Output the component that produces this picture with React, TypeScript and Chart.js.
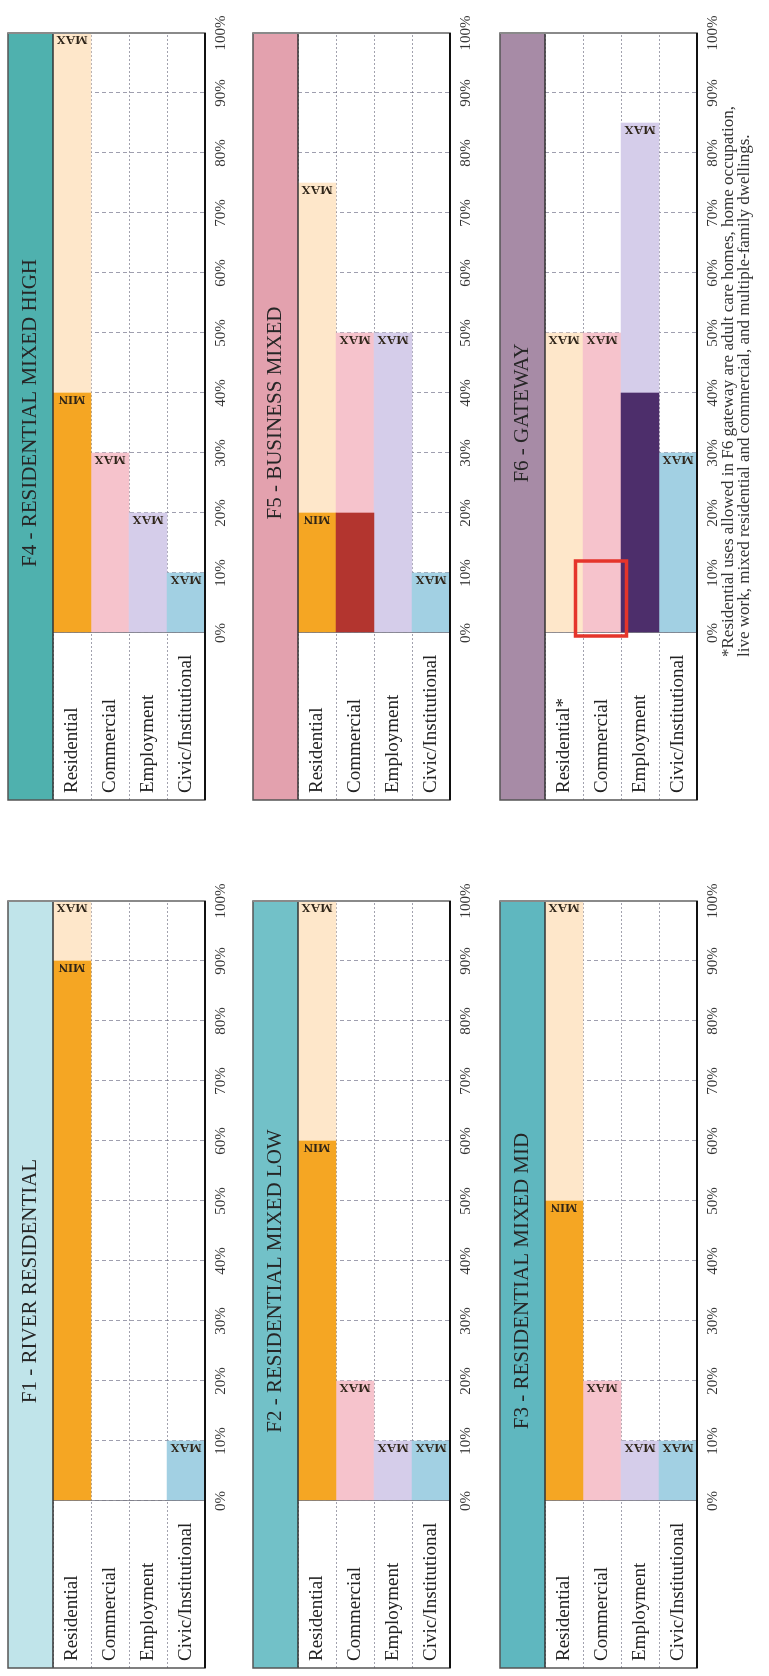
import React, { useEffect, useRef } from "react";
import { Chart, registerables } from "chart.js";

Chart.register(...registerables);

// ---------- data ----------
const rowLabels = ["Residential", "Commercial", "Employment", "Civic/Institutional"];
const rowLabelsF6 = ["Residential*", "Commercial", "Employment", "Civic/Institutional"];
const percentTicks = [0, 10, 20, 30, 40, 50, 60, 70, 80, 90, 100];

const titleF1 = "F1 - RIVER RESIDENTIAL";
const titleF2 = "F2 - RESIDENTIAL MIXED LOW";
const titleF3 = "F3 - RESIDENTIAL MIXED MID";
const titleF4 = "F4 - RESIDENTIAL MIXED HIGH";
const titleF5 = "F5 - BUSINESS MIXED";
const titleF6 = "F6 - GATEWAY";

// minimum share (solid segment) and maximum share (end of light segment), in %
const f1Min = [90, 0, 0, 0];
const f1Max = [100, 0, 0, 10];
const f2Min = [60, 0, 0, 0];
const f2Max = [100, 20, 10, 10];
const f3Min = [50, 0, 0, 0];
const f3Max = [100, 20, 10, 10];
const f4Min = [40, 0, 0, 0];
const f4Max = [100, 30, 20, 10];
const f5Min = [20, 20, 0, 0];
const f5Max = [75, 50, 50, 10];
const f6Min = [0, 0, 40, 0];
const f6Max = [50, 50, 85, 30];

// which rows carry a MIN tag
const minTagRows = [true, false, false, false];

// highlighted cell in F6 (row index, from %, to %)
const f6HighlightRow = 1;
const f6HighlightFrom = 0;
const f6HighlightTo = 12;

const footnoteLines = [
  "*Residential uses allowed in F6 gateway are adult care homes, home occupation,",
  "live work, mixed residential and commercial, and multiple-family dwellings.",
];

// ---------- styles ----------
const solidColors = ["#f5a623", "#b3352f", "#4d2e6b", "#9fcfe2"];
const lightColors = ["#fee7ca", "#f6c3cc", "#d5cdea", "#a2d0e3"];
const headerColors = ["#c0e4ea", "#72c1c8", "#5fb7bf", "#4fb1ae", "#e3a1ae", "#a78ba6"];

const SERIF = '"Liberation Serif", "Times New Roman", serif';
const LABEL_W = 167;
const LABEL_INSET = 7;
const PAD_L = 10;
const PAD_R = 25;
const PAD_T = 2;
const PLOT_W = 600;
const CW = PAD_L + (LABEL_W - LABEL_INSET) + PLOT_W + PAD_R;
const XAXIS_H = 33;
const CH = PAD_T + 45 + 152 + XAXIS_H;

const decorPlugin = {
  id: "panelDecor",
  beforeDraw(chart: any, _args: any, opts: any) {
    const { ctx, chartArea } = chart;
    const tb = chart.titleBlock;
    const left = chartArea.left - LABEL_W;
    const top = tb ? tb.top : PAD_T;
    ctx.save();
    ctx.fillStyle = "#ffffff";
    ctx.fillRect(left, top, chartArea.right - left, chartArea.bottom - top);
    ctx.fillStyle = opts.headerColor;
    ctx.fillRect(left, top, chartArea.right - left, chartArea.top - top);
    ctx.restore();
  },
  afterDraw(chart: any, _args: any, opts: any) {
    const { ctx, chartArea } = chart;
    const tb = chart.titleBlock;
    const left = chartArea.left - LABEL_W;
    const top = tb ? tb.top : PAD_T;
    const xs = chart.scales.x;
    const ys = chart.scales.y;
    ctx.save();

    // MIN / MAX tags at the end of each segment
    chart.data.datasets.forEach((ds: any, di: number) => {
      const meta = chart.getDatasetMeta(di);
      meta.data.forEach((bar: any, i: number) => {
        const tag = ds.endTags ? ds.endTags[i] : null;
        if (!tag || ds.data[i] == null) return;
        ctx.save();
        ctx.translate(bar.x - 3, bar.y);
        ctx.rotate(-Math.PI / 2);
        ctx.font = `bold 13px ${SERIF}`;
        ctx.fillStyle = "#2e2418";
        ctx.textAlign = "center";
        ctx.textBaseline = "alphabetic";
        ctx.fillText(tag, 0, 0);
        ctx.restore();
      });
    });

    // divider between labels and plot
    ctx.strokeStyle = "rgba(120,120,130,0.8)";
    ctx.lineWidth = 1;
    ctx.beginPath();
    ctx.moveTo(chartArea.left + 0.5, chartArea.top);
    ctx.lineTo(chartArea.left + 0.5, chartArea.bottom);
    ctx.stroke();

    // header / body separator
    ctx.strokeStyle = "#333";
    ctx.lineWidth = 1.5;
    ctx.beginPath();
    ctx.moveTo(left, chartArea.top);
    ctx.lineTo(chartArea.right, chartArea.top);
    ctx.stroke();

    // outer frame
    ctx.strokeStyle = "#555";
    ctx.lineWidth = 1.5;
    ctx.strokeRect(left, top, chartArea.right - left, chartArea.bottom - top);
    // 100% edge
    ctx.strokeStyle = "#8a8a8a";
    ctx.lineWidth = 2;
    ctx.beginPath();
    ctx.moveTo(chartArea.right, top);
    ctx.lineTo(chartArea.right, chartArea.bottom);
    ctx.stroke();
    // bottom edge
    ctx.strokeStyle = "#111";
    ctx.lineWidth = 2;
    ctx.beginPath();
    ctx.moveTo(left, chartArea.bottom);
    ctx.lineTo(chartArea.right, chartArea.bottom);
    ctx.stroke();

    // highlight box
    const hl = opts.highlight;
    if (hl) {
      const half = Math.abs(ys.getPixelForValue(1) - ys.getPixelForValue(0)) / 2;
      const yc = ys.getPixelForValue(hl.row);
      const x0 = xs.getPixelForValue(hl.from) - 3;
      const x1 = xs.getPixelForValue(hl.to);
      ctx.strokeStyle = "#e5352b";
      ctx.lineWidth = 3.5;
      ctx.strokeRect(x0, yc - half - 7.5, x1 - x0, 2 * half + 13);
    }
    ctx.restore();
  },
};

type PanelSpec = {
  title: string;
  labels: string[];
  min: number[];
  max: number[];
  header: string;
  left: number;
  top: number;
  highlight?: { row: number; from: number; to: number };
};

function Panel({ spec }: { spec: PanelSpec }) {
  const ref = useRef<HTMLCanvasElement>(null);
  useEffect(() => {
    if (!ref.current) return;
    const solidData = spec.min.map((v) => (v > 0 ? [0, v] : null));
    const lightData = spec.max.map((v, i) => (v > spec.min[i] ? [spec.min[i], v] : null));
    const chart = new Chart(ref.current, {
      type: "bar",
      data: {
        labels: spec.labels,
        datasets: [
          {
            label: "Minimum",
            data: solidData as any,
            backgroundColor: solidColors,
            borderWidth: 0,
            barPercentage: 1,
            categoryPercentage: 1,
            grouped: false,
            endTags: spec.min.map((v, i) => (minTagRows[i] && v > 0 ? "MIN" : null)),
          } as any,
          {
            label: "Maximum",
            data: lightData as any,
            backgroundColor: lightColors,
            borderWidth: 0,
            barPercentage: 1,
            categoryPercentage: 1,
            grouped: false,
            endTags: spec.max.map((v) => (v > 0 ? "MAX" : null)),
          } as any,
        ],
      },
      options: {
        indexAxis: "y",
        responsive: false,
        animation: false,
        events: [],
        layout: { padding: { left: PAD_L, right: PAD_R, top: PAD_T, bottom: 0 } },
        plugins: {
          legend: { display: false },
          tooltip: { enabled: false },
          title: {
            display: true,
            text: spec.title,
            color: "#262626",
            font: { family: SERIF, size: 21, weight: "normal" },
            padding: { top: 10, bottom: 9.8 },
          },
          panelDecor: { headerColor: spec.header, highlight: spec.highlight },
        } as any,
        scales: {
          x: {
            type: "linear",
            min: 0,
            max: 100,
            position: "bottom",
            z: 1,
            afterFit: (s: any) => {
              s.height = XAXIS_H;
            },
            afterBuildTicks: (s: any) => {
              s.ticks = percentTicks.map((v) => ({ value: v }));
            },
            ticks: {
              callback: (v: any) => v + "%",
              font: { family: SERIF, size: 15 },
              color: "#333",
              padding: 7,
              maxRotation: 0,
              autoSkip: false,
            },
            grid: { color: "rgba(80,80,110,0.55)", lineWidth: 1, drawTicks: false },
            border: { display: false, dash: [4, 3] },
          },
          y: {
            type: "category",
            position: "left",
            afterFit: (s: any) => {
              s.width = LABEL_W - LABEL_INSET;
            },
            ticks: {
              crossAlign: "far",
              font: { family: SERIF, size: 19 },
              color: "#222",
            },
            grid: {
              color: "rgba(100,100,120,0.6)",
              lineWidth: 1,
              offset: true,
              drawTicks: true,
              tickLength: LABEL_W,
              tickColor: "rgba(100,100,120,0.6)",
              tickBorderDash: [2, 2],
            },
            border: { display: false, dash: [2, 2] },
          },
        } as any,
      },
      plugins: [decorPlugin as any],
    });
    return () => chart.destroy();
  }, [spec]);
  return (
    <canvas
      ref={ref}
      width={CW}
      height={CH}
      style={{ position: "absolute", left: spec.left, top: spec.top, width: CW, height: CH }}
    />
  );
}

const LEFT_COL = 175 - PAD_L - (LABEL_W - LABEL_INSET);
const RIGHT_COL = 1043 - PAD_L - (LABEL_W - LABEL_INSET);
const ROW_TOPS = [8 - PAD_T, 253 - PAD_T, 500 - PAD_T];

const panels: PanelSpec[] = [
  { title: titleF1, labels: rowLabels, min: f1Min, max: f1Max, header: headerColors[0], left: LEFT_COL, top: ROW_TOPS[0] },
  { title: titleF2, labels: rowLabels, min: f2Min, max: f2Max, header: headerColors[1], left: LEFT_COL, top: ROW_TOPS[1] },
  { title: titleF3, labels: rowLabels, min: f3Min, max: f3Max, header: headerColors[2], left: LEFT_COL, top: ROW_TOPS[2] },
  { title: titleF4, labels: rowLabels, min: f4Min, max: f4Max, header: headerColors[3], left: RIGHT_COL, top: ROW_TOPS[0] },
  { title: titleF5, labels: rowLabels, min: f5Min, max: f5Max, header: headerColors[4], left: RIGHT_COL, top: ROW_TOPS[1] },
  {
    title: titleF6,
    labels: rowLabelsF6,
    min: f6Min,
    max: f6Max,
    header: headerColors[5],
    left: RIGHT_COL,
    top: ROW_TOPS[2],
    highlight: { row: f6HighlightRow, from: f6HighlightFrom, to: f6HighlightTo },
  },
];

export default function App() {
  return (
    <div
      style={{
        position: "absolute",
        left: 0,
        top: 0,
        width: 1676,
        height: 769,
        background: "#ffffff",
        transformOrigin: "0 0",
        transform: "translate(0px, 1676px) rotate(-90deg)",
        overflow: "hidden",
      }}
    >
      {panels.map((p) => (
        <Panel key={p.title} spec={p} />
      ))}
      <div
        style={{
          position: "absolute",
          left: 1019,
          top: 720,
          fontFamily: SERIF,
          fontSize: 17,
          lineHeight: "16px",
          color: "#333",
          whiteSpace: "nowrap",
        }}
      >
        {footnoteLines.map((l) => (
          <div key={l}>{l}</div>
        ))}
      </div>
    </div>
  );
}
